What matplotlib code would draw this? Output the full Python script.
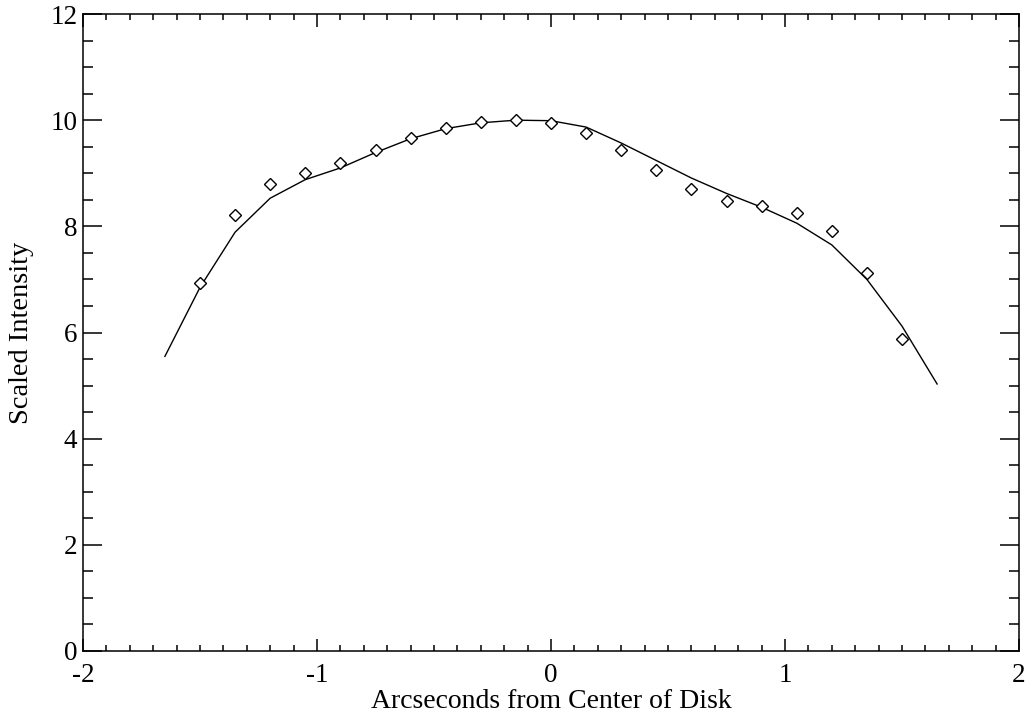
import matplotlib
matplotlib.use("Agg")
import matplotlib.pyplot as plt
from matplotlib.ticker import MultipleLocator

# Model curve
model_x = [-1.65, -1.5, -1.35, -1.2, -1.05, -0.9, -0.75, -0.6, -0.45, -0.3, -0.15,
           0.0, 0.15, 0.3, 0.45, 0.6, 0.75, 0.9, 1.05, 1.2, 1.35, 1.5, 1.65]
model_y = [5.55, 6.85, 7.89, 8.53, 8.88, 9.10, 9.39, 9.65, 9.84, 9.95, 10.0,
           9.99, 9.87, 9.57, 9.24, 8.91, 8.62, 8.36, 8.06, 7.65, 7.00, 6.12, 5.03]

# Observed points
obs_x = [-1.5, -1.35, -1.2, -1.05, -0.9, -0.75, -0.6, -0.45, -0.3, -0.15,
         0.0, 0.15, 0.3, 0.45, 0.6, 0.75, 0.9, 1.05, 1.2, 1.35, 1.5]
obs_y = [6.93, 8.22, 8.80, 9.01, 9.19, 9.43, 9.67, 9.86, 9.96, 10.0,
         9.94, 9.75, 9.44, 9.07, 8.71, 8.48, 8.38, 8.26, 7.91, 7.13, 5.87]

x_ticks = [-2, -1, 0, 1, 2]
y_ticks = [0, 2, 4, 6, 8, 10, 12]

plt.rcParams['font.family'] = ['Liberation Serif', 'DejaVu Serif']

fig = plt.figure(figsize=(10.3, 7.17), dpi=100)
ax = fig.add_axes([83/1030, 1 - 651/717, (1019 - 83)/1030, (651 - 14)/717])

ax.plot(model_x, model_y, color='black', lw=1.0)
ax.plot(obs_x, obs_y, linestyle='none', marker='D', markersize=6,
        markerfacecolor='white', markeredgecolor='black', markeredgewidth=1.0)

ax.set_xlim(-2, 2)
ax.set_ylim(0, 12)
ax.set_xticks(x_ticks)
ax.set_yticks(y_ticks)
ax.set_xticklabels([str(v) for v in x_ticks])
ax.set_yticklabels([str(v) for v in y_ticks])
ax.xaxis.set_minor_locator(MultipleLocator(0.1))
ax.yaxis.set_minor_locator(MultipleLocator(0.5))

for s in ax.spines.values():
    s.set_linewidth(1.1)

ax.tick_params(axis='both', which='both', direction='in', top=True, right=True,
               labelsize=19.5, width=1.1)
ax.tick_params(axis='x', which='major', length=9, pad=9)
ax.tick_params(axis='x', which='minor', length=4)
ax.tick_params(axis='y', which='major', length=14, pad=4)
ax.tick_params(axis='y', which='minor', length=7)

ax.set_xlabel('Arcseconds from Center of Disk', fontsize=20, labelpad=0)
ax.set_ylabel('Scaled Intensity', fontsize=20.5, labelpad=12)

fig.savefig('out.png', dpi=100)
